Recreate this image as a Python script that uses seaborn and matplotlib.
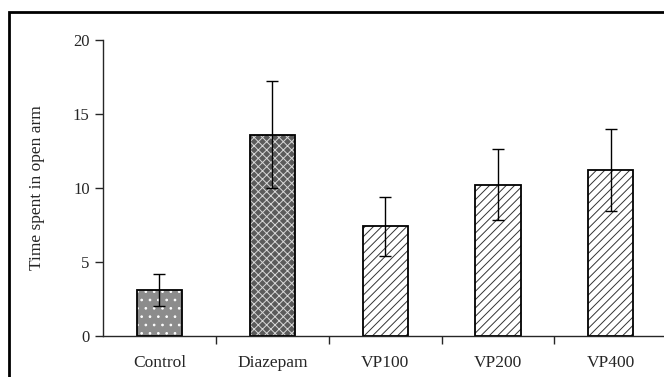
import matplotlib
matplotlib.use('Agg')
import matplotlib.pyplot as plt
import matplotlib.patches as mpatches
import pandas as pd
import seaborn as sns

# datos
groups = ['Control', 'Diazepam', 'VP100', 'VP200', 'VP400']
time_open_arm = [3.1, 13.6, 7.4, 10.2, 11.2]
sem = [1.1, 3.6, 2.0, 2.4, 2.75]

df = pd.DataFrame({'group': groups, 'time': time_open_arm})

sns.set_style('ticks')
plt.rcParams['font.family'] = ['Liberation Serif', 'DejaVu Serif']
plt.rcParams['hatch.linewidth'] = 0.7

fig = plt.figure(figsize=(6.64, 3.77), dpi=100)
ax = fig.add_axes([0.155, 0.109, 0.85, 0.785])

# relleno + trama (trama en color del borde)
fills = ['#8c8c8c', '#5a5a5a', 'white', 'white', 'white']
hatch_cols = ['white', '#d8d8d8', '#333333', '#333333', '#333333']
hatches = ['..', 'xxxx', '////', '////', '////']

sns.barplot(data=df, x='group', y='time', order=groups, width=0.4,
            color='white', errorbar=None, ax=ax)
for p, fc, hc, h in zip(ax.patches, fills, hatch_cols, hatches):
    p.set_facecolor(fc)
    p.set_edgecolor(hc)
    p.set_hatch(h)
    p.set_linewidth(0)

# contorno negro encima
sns.barplot(data=df, x='group', y='time', order=groups, width=0.4,
            fill=False, color='black', errorbar=None, ax=ax)
for p in ax.patches[len(groups):]:
    p.set_edgecolor('black')
    p.set_linewidth(1.3)

ax.errorbar(groups, time_open_arm, yerr=sem, fmt='none', ecolor='black',
            elinewidth=1.0, capsize=4, capthick=1.0)

ax.set_xlim(-0.5, 4.5)
ax.set_ylim(0, 20)
ax.set_yticks([0, 5, 10, 15, 20])
ax.set_xticks(range(len(groups)))
ax.set_xticklabels(groups, fontsize=12.5)
ax.set_xticks([0.5, 1.5, 2.5, 3.5], minor=True)
ax.tick_params(axis='x', which='major', length=0, pad=14)
ax.tick_params(axis='x', which='minor', length=6, width=1, direction='out')
ax.tick_params(axis='y', length=6, width=1, labelsize=12, direction='out')
ax.set_xlabel('')
ax.set_ylabel('Time spent in open arm', fontsize=12.5, labelpad=20)
sns.despine(ax=ax)
for s in ['left', 'bottom']:
    ax.spines[s].set_linewidth(1.0)

# marco exterior
fig.patches.append(mpatches.Rectangle((0.014, -0.1), 1.2, 1.068,
                                      transform=fig.transFigure, fill=False,
                                      edgecolor='black', linewidth=2))

plt.savefig('out.png', dpi=100)
